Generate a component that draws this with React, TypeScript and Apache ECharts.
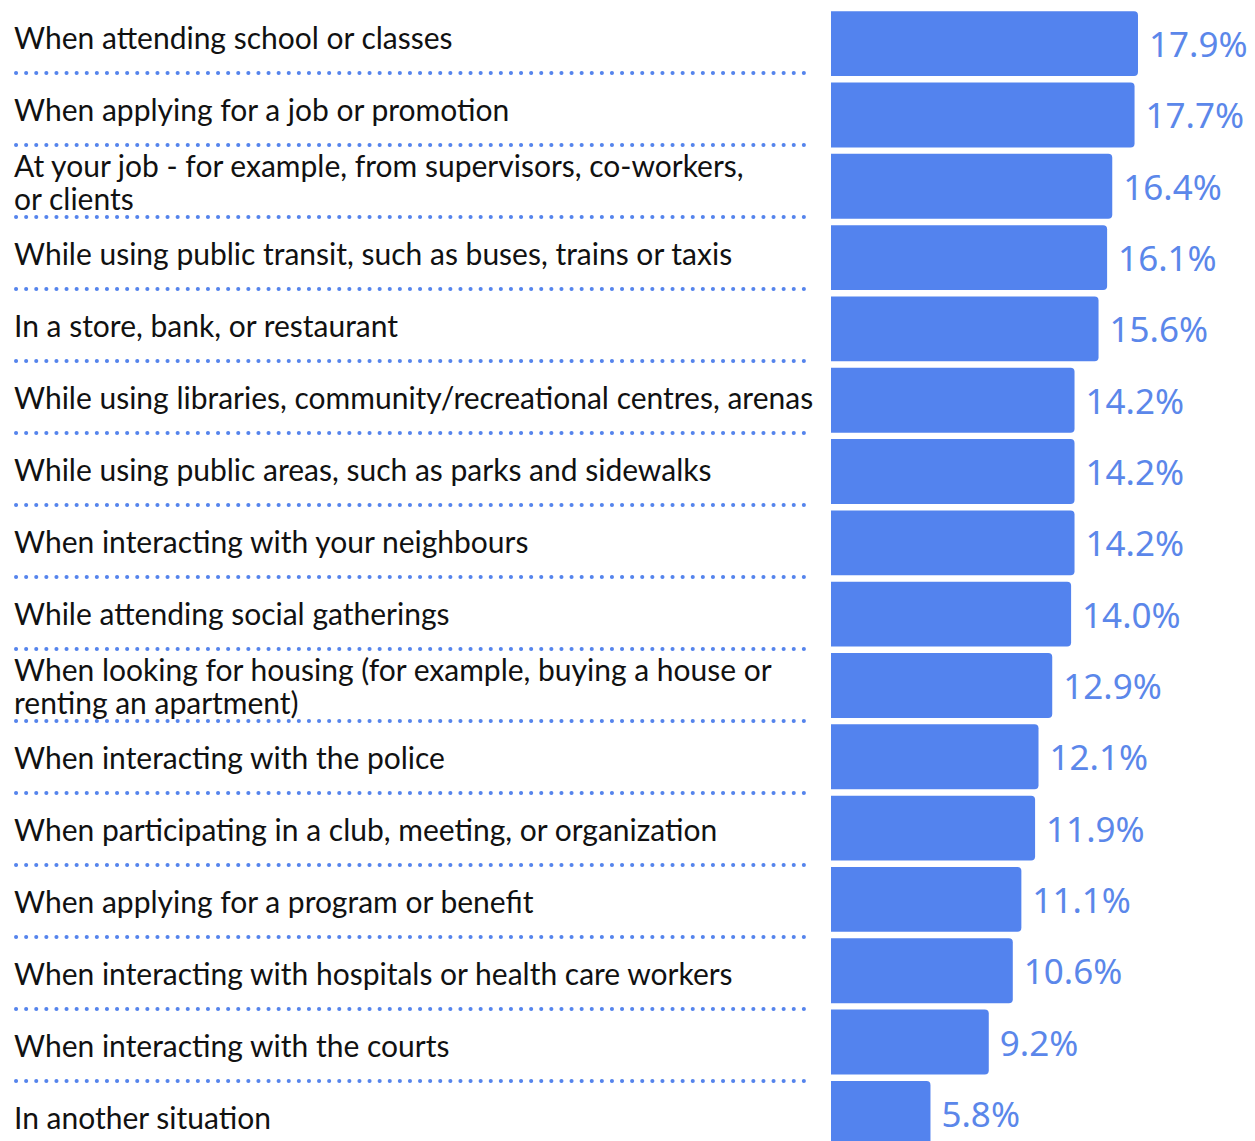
import React, { useEffect, useRef } from "react";
import * as echarts from "echarts";

const categories: string[] = [
  "When attending school or classes",
  "When applying for a job or promotion",
  "At your job - for example, from supervisors, co-workers,\nor clients",
  "While using public transit, such as buses, trains or taxis",
  "In a store, bank, or restaurant",
  "While using libraries, community/recreational centres, arenas",
  "While using public areas, such as parks and sidewalks",
  "When interacting with your neighbours",
  "While attending social gatherings",
  "When looking for housing (for example, buying a house or\nrenting an apartment)",
  "When interacting with the police",
  "When participating in a club, meeting, or organization",
  "When applying for a program or benefit",
  "When interacting with hospitals or health care workers",
  "When interacting with the courts",
  "In another situation",
];

const values: number[] = [
  17.9, 17.7, 16.4, 16.1, 15.6, 14.2, 14.2, 14.2, 14.0, 12.9, 12.1, 11.9, 11.1,
  10.6, 9.2, 5.8,
];

const BAR = "#5383ee";
const DOT = "#5584ec";

export default function App() {
  const ref = useRef<HTMLDivElement>(null);
  useEffect(() => {
    if (!ref.current) return;
    document.body.style.overflow = "hidden";
    const chart = echarts.init(ref.current, undefined, { renderer: "svg" });
    const sepColors = categories.map((_, i) => (i === 0 ? "rgba(0,0,0,0)" : DOT));
    sepColors.push("rgba(0,0,0,0)");
    chart.setOption({
      animation: false,
      backgroundColor: "#ffffff",
      grid: [
        { left: 831, width: 343, top: 8, height: 1141, containLabel: false },
        { left: 16, width: 794, top: 1, height: 1152, containLabel: false },
      ],
      xAxis: [
        { type: "value", gridIndex: 0, min: 0, max: 20, show: false },
        { type: "value", gridIndex: 1, min: 0, max: 1, show: false },
      ],
      yAxis: [
        {
          type: "category",
          gridIndex: 0,
          data: categories,
          inverse: true,
          axisLine: { show: false },
          axisTick: { show: false },
          splitLine: { show: false },
          axisLabel: { show: false },
        },
        {
          type: "category",
          gridIndex: 1,
          data: categories,
          inverse: true,
          axisLine: { show: false },
          axisTick: { show: false },
          axisLabel: {
            show: true,
            align: "left",
            margin: 2,
            color: "#111111",
            fontFamily: "Lato",
            fontSize: 30,
            lineHeight: 33,
          },
          splitLine: {
            show: true,
            lineStyle: {
              color: sepColors,
              width: 4,
              type: [0.1, 10],
              cap: "round",
            },
          },
        },
      ],
      series: [
        {
          type: "bar",
          xAxisIndex: 0,
          yAxisIndex: 0,
          data: values,
          barCategoryGap: "9%",
          itemStyle: {
            color: BAR,
            borderRadius: [0, 4, 4, 0],
          },
          label: {
            show: true,
            position: "right",
            distance: 11,
            color: "#5b87ea",
            fontFamily: "Noto Sans",
            fontSize: 35,
            formatter: (p: any) => p.value.toFixed(1) + "%",
          },
        },
      ],
    });
    return () => chart.dispose();
  }, []);
  return (
    <div
      ref={ref}
      style={{ position: "absolute", left: 0, top: 0, width: 1255, height: 1165 }}
    />
  );
}
